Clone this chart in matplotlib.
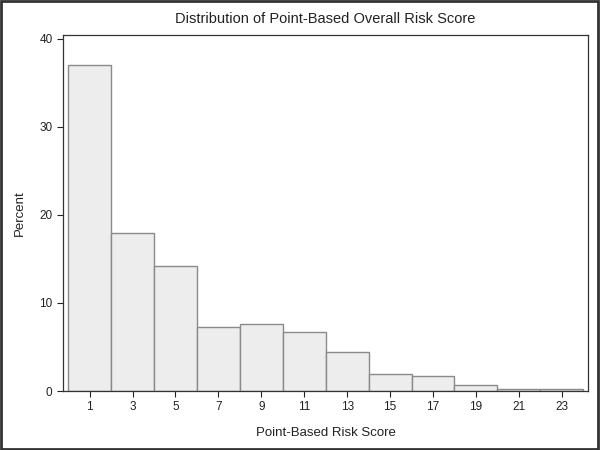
import matplotlib.pyplot as plt
import matplotlib.patches as mpatches

# Histogram-Daten (Mittelpunkte und Prozentwerte)
scores = [1, 3, 5, 7, 9, 11, 13, 15, 17, 19, 21, 23]
percent = [37.0, 17.9, 14.2, 7.3, 7.6, 6.7, 4.4, 1.9, 1.7, 0.65, 0.2, 0.2]
y_ticks = [0, 10, 20, 30, 40]

plt.rcParams['font.family'] = ['Liberation Sans', 'DejaVu Sans']

fig = plt.figure(figsize=(6, 4.5), dpi=100)
ax = fig.add_axes([0.105, 0.131, 0.875, 0.791])

ax.bar(scores, percent, width=2, align='center',
       facecolor='#ededed', edgecolor='#8a8a8a', linewidth=1.0)

ax.set_xlim(-0.24, 24.22)
ax.set_ylim(0, 40.4)
ax.set_xticks(scores)
ax.set_yticks(y_ticks)
ax.tick_params(axis='both', direction='out', length=4, width=0.8,
               labelsize=8.5, colors='#222222')

for side in ['left', 'right', 'top', 'bottom']:
    ax.spines[side].set_color('#333333')
    ax.spines[side].set_linewidth(0.9)

ax.set_title('Distribution of Point-Based Overall Risk Score', fontsize=10.5,
             pad=9, color='#222222')
ax.set_xlabel('Point-Based Risk Score', fontsize=9.5, labelpad=10, color='#222222')
ax.set_ylabel('Percent', fontsize=9.5, labelpad=10, color='#222222')

# Rahmen um die ganze Grafik
fig.patches.append(mpatches.Rectangle((0.002, 0.003), 0.995, 0.994,
                                      transform=fig.transFigure, fill=False,
                                      edgecolor='#333333', linewidth=2))

fig.savefig('out.png', dpi=100)
